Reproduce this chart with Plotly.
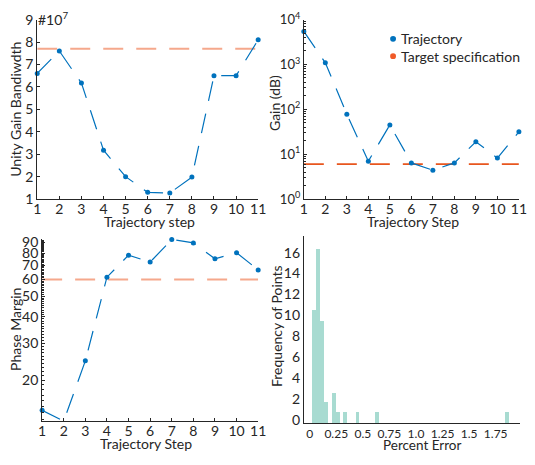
import math
import plotly.graph_objects as go

W, H = 535, 465

# ---------------- data ----------------
steps = [1, 2, 3, 4, 5, 6, 7, 8, 9, 10, 11]
ugb = [6.6, 7.6, 6.17, 3.18, 2.0, 1.3, 1.27, 1.98, 6.5, 6.5, 8.1]      # x 1e7
ugb_target = 7.7
gain = [5460, 1090, 78, 7.0, 45, 6.4, 4.4, 6.4, 19, 8.2, 31.5]
gain_target = 6.0
pm = [14.4, 12.8, 24.7, 61.5, 78.2, 72.5, 92.8, 89.4, 75.2, 80.3, 66.6]
pm_target = 60

err_centers = [0.039, 0.078, 0.116, 0.151, 0.226, 0.263, 0.333, 0.448, 0.630, 1.856]
err_counts = [10.5, 16.4, 9.5, 1.7, 2.6, 0.7, 0.7, 0.7, 0.7, 0.7]

ugb_ticks = [1, 2, 3, 4, 5, 6, 7, 8, 9]
gain_ticks = [1, 10, 100, 1000, 10000]
gain_ticktext = ["10<sup>0</sup>", "10<sup>1</sup>", "10<sup>2</sup>", "10<sup>3</sup>", "10<sup>4</sup>"]
pm_ticks = [20, 30, 40, 50, 60, 70, 80, 90]
err_ticks = [0, 0.25, 0.5, 0.75, 1.0, 1.25, 1.5, 1.75]
err_ticktext = ["0", "0.25", "0.5", "0.75", "1.0", "1.25", "1.5", "1.75"]
freq_ticks = [0, 2, 4, 6, 8, 10, 12, 14, 16]

# ---------------- style ----------------
BLUE = "#0072BD"
SALMON = "#F5A88C"
ORANGE = "#E8561E"
TEAL = "#A8DBD1"
AX = "#262626"
FONT = "Lato"
FS = 14
TRAJ_DASH = "20px,13px"
TARGET_DASH = "20px,13px"


def px_x(p):
    return p / W


def px_y(p):
    return 1 - p / H


fig = go.Figure()

# ---- Unity gain bandwidth ----
fig.add_trace(go.Scatter(x=[steps[0], steps[-1]], y=[ugb_target, ugb_target], mode="lines",
                         line=dict(color=SALMON, width=2, dash=TARGET_DASH),
                         xaxis="x", yaxis="y", showlegend=False, cliponaxis=False))
fig.add_trace(go.Scatter(x=steps, y=ugb, mode="lines+markers",
                         line=dict(color=BLUE, width=1.2, dash=TRAJ_DASH),
                         marker=dict(color=BLUE, size=5),
                         xaxis="x", yaxis="y", showlegend=False, cliponaxis=False))

# ---- Gain ----
fig.add_trace(go.Scatter(x=[steps[0], steps[-1]], y=[gain_target, gain_target], mode="lines",
                         line=dict(color=ORANGE, width=1.6, dash=TARGET_DASH),
                         xaxis="x2", yaxis="y2", showlegend=False, cliponaxis=False))
fig.add_trace(go.Scatter(x=steps, y=gain, mode="lines+markers",
                         line=dict(color=BLUE, width=1.2, dash=TRAJ_DASH),
                         marker=dict(color=BLUE, size=5),
                         xaxis="x2", yaxis="y2", showlegend=False, cliponaxis=False))

# ---- Phase margin ----
fig.add_trace(go.Scatter(x=[steps[0], steps[-1]], y=[pm_target, pm_target], mode="lines",
                         line=dict(color=SALMON, width=2, dash=TARGET_DASH),
                         xaxis="x3", yaxis="y3", showlegend=False, cliponaxis=False))
fig.add_trace(go.Scatter(x=steps, y=pm, mode="lines+markers",
                         line=dict(color=BLUE, width=1.2, dash=TRAJ_DASH),
                         marker=dict(color=BLUE, size=5),
                         xaxis="x3", yaxis="y3", showlegend=False, cliponaxis=False))

# ---- Histogram ----
freq_lo = -0.35
fig.add_trace(go.Bar(x=err_centers, y=[c - freq_lo for c in err_counts], base=freq_lo,
                     width=0.037, marker=dict(color=TEAL, line=dict(width=0)),
                     xaxis="x4", yaxis="y4", showlegend=False))


def axis(domain, fs=FS, **kw):
    d = dict(domain=domain, showline=True, linecolor=AX, linewidth=1, showgrid=False,
             zeroline=False, ticks="inside", ticklen=3, tickcolor=AX,
             tickfont=dict(family=FONT, size=fs, color=AX), mirror=False,
             ticklabeloverflow="allow")
    d.update(kw)
    return d


xd_tl = [px_x(34), px_x(260)]
xd_tr = [px_x(306.7), px_x(526.7)]
xd_bl = [px_x(39), px_x(260)]
xd_br = [px_x(306.7), px_x(528)]
yd_top = [px_y(196.7), px_y(10)]
yd_bl = [px_y(427.3), px_y(238)]
yd_br = [px_y(430), px_y(235)]

pm_minor = [v for v in range(13, 94) if v not in pm_ticks]
gain_minor = [m * 10 ** e for e in range(0, 4) for m in range(2, 10)]

fig.update_layout(
    width=W, height=H,
    margin=dict(l=0, r=0, t=0, b=0),
    paper_bgcolor="white", plot_bgcolor="white",
    font=dict(family=FONT, size=FS, color=AX),
    bargap=0,
    xaxis=axis(xd_tl, anchor="y", range=[1, 11], tickvals=steps, ticklabelstandoff=-3),
    yaxis=axis(yd_top, anchor="x", range=[1, 9], tickvals=ugb_ticks),
    xaxis2=axis(xd_tr, anchor="y2", range=[1, 11], tickvals=steps, ticklabelstandoff=-3),
    yaxis2=axis(yd_top, fs=13, anchor="x2", type="log", range=[0, 4], tickvals=gain_ticks,
                ticktext=gain_ticktext,
                minor=dict(tickvals=gain_minor, ticks="inside", ticklen=2, tickcolor=AX)),
    xaxis3=axis(xd_bl, anchor="y3", range=[1, 11], tickvals=steps, ticklabelstandoff=-3),
    yaxis3=axis(yd_bl, anchor="x3", type="log", range=[math.log10(12.85), math.log10(93.5)],
                tickvals=pm_ticks,
                minor=dict(tickvals=pm_minor, ticks="inside", ticklen=2, tickcolor=AX)),
    xaxis4=axis(xd_br, fs=12, anchor="y4", range=[-0.055, 1.98], tickvals=err_ticks,
                ticktext=err_ticktext, ticks="", ticklabelstandoff=-1),
    yaxis4=axis(yd_br, anchor="x4", range=[freq_lo, 17.6], tickvals=freq_ticks, ticks=""),
)

# ---- text annotations (axis titles etc.) ----
ann = []


def text(t, x, y, angle=0, size=FS, xanchor="center", yanchor="middle"):
    ann.append(dict(text=t, x=px_x(x), y=px_y(y), xref="paper", yref="paper",
                    showarrow=False, textangle=angle, xanchor=xanchor, yanchor=yanchor,
                    font=dict(family=FONT, size=size, color=AX)))


text("Unity Gain Bandiwdth", 11, 103, angle=-90)
text("Trajectory step", 149, 220)
text("#10<sup>7</sup>", 33, 9, xanchor="left")
text("Gain (dB)", 276, 97, angle=-90)
text("Trajectory Step", 418, 220)
text("Phase Margin", 11, 332, angle=-90)
text("Trajectory Step", 145, 451)
text("Frequency of Points", 279, 329, angle=-90)
text("Percent Error", 428, 453, size=13.5)

# legend (manual)
legend_items = [("Trajectory", BLUE, 30), ("Target specification", "#F05A28", 48)]
shapes = []
for label, col, yy in legend_items:
    shapes.append(dict(type="circle", xref="paper", yref="paper",
                       x0=px_x(395), x1=px_x(401), y0=px_y(yy + 3), y1=px_y(yy - 3),
                       fillcolor=col, line=dict(width=0)))
    text(label, 404, yy, xanchor="left")

fig.update_layout(annotations=ann, shapes=shapes)

fig.write_html("out.html", config={"displayModeBar": False},
               post_script="document.body.style.margin='0px';document.body.style.overflow='hidden';")
